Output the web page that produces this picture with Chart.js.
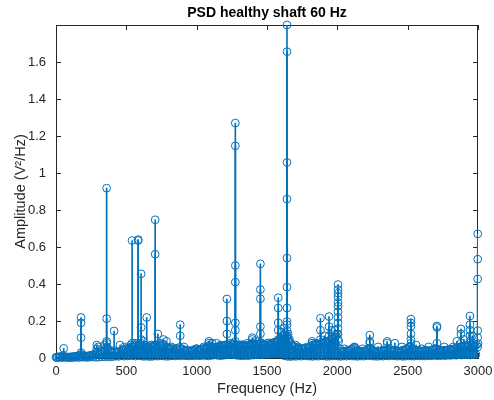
<!DOCTYPE html>
<html><head><meta charset="utf-8">
<script src="https://cdn.jsdelivr.net/npm/chart.js@4.4.1/dist/chart.umd.min.js"></script>
<style>html,body{margin:0;padding:0;background:#fff}#wrap{width:494px;height:400px}</style>
</head><body><div id="wrap"><canvas id="c" width="494" height="400"></canvas></div>
<script>
const chartTitle = 'PSD healthy shaft 60 Hz';
const xTitle = 'Frequency (Hz)';
const yTitle = 'Amplitude (V²/Hz)';
const xTicks = [0, 500, 1000, 1500, 2000, 2500, 3000];
const yTicks = [0, 0.2, 0.4, 0.6, 0.8, 1, 1.2, 1.4, 1.6];

// dense background spectrum, one value every 10 Hz from 0 Hz
const baseStep = 10;
const baseAmp = [
0.004,0.006,0.005,0.008,0.006,0.012,0.007,0.005,0.006,0.004,
0.005,0.007,0.006,0.009,0.008,0.010,0.012,0.015,0.020,0.014,
0.010,0.012,0.009,0.011,0.014,0.012,0.018,0.015,0.022,0.035,
0.030,0.025,0.020,0.028,0.035,0.040,0.045,0.050,0.038,0.030,
0.032,0.040,0.035,0.030,0.028,0.035,0.032,0.040,0.045,0.050,
0.050,0.042,0.048,0.055,0.062,0.058,0.068,0.072,0.060,0.065,
0.072,0.068,0.062,0.070,0.058,0.052,0.060,0.068,0.062,0.058,
0.068,0.072,0.062,0.058,0.070,0.062,0.075,0.068,0.060,0.058,
0.052,0.048,0.050,0.055,0.042,0.048,0.052,0.045,0.058,0.050,
0.048,0.042,0.040,0.038,0.042,0.035,0.038,0.040,0.042,0.048,
0.050,0.042,0.040,0.045,0.048,0.052,0.050,0.058,0.062,0.068,
0.062,0.058,0.060,0.055,0.052,0.058,0.062,0.060,0.068,0.065,
0.068,0.072,0.070,0.062,0.068,0.075,0.072,0.078,0.070,0.068,
0.062,0.068,0.072,0.065,0.060,0.068,0.062,0.070,0.075,0.072,
0.078,0.072,0.068,0.075,0.070,0.078,0.082,0.075,0.068,0.072,
0.078,0.082,0.072,0.070,0.078,0.085,0.080,0.088,0.092,0.098,
0.105,0.110,0.125,0.135,0.115,0.100,0.088,0.078,0.068,0.062,
0.058,0.052,0.050,0.048,0.052,0.050,0.048,0.052,0.058,0.055,
0.058,0.062,0.068,0.072,0.068,0.070,0.075,0.072,0.078,0.082,
0.078,0.082,0.088,0.085,0.092,0.098,0.102,0.108,0.112,0.122,
0.130,0.090,0.048,0.038,0.032,0.035,0.038,0.040,0.038,0.042,
0.048,0.052,0.058,0.052,0.042,0.038,0.035,0.032,0.038,0.035,
0.038,0.042,0.048,0.052,0.048,0.042,0.038,0.035,0.032,0.038,
0.035,0.038,0.042,0.040,0.038,0.042,0.048,0.045,0.038,0.035,
0.040,0.042,0.038,0.035,0.032,0.038,0.040,0.042,0.045,0.048,
0.052,0.058,0.062,0.052,0.048,0.042,0.038,0.040,0.042,0.038,
0.035,0.038,0.040,0.042,0.038,0.035,0.040,0.042,0.045,0.048,
0.052,0.048,0.042,0.040,0.038,0.042,0.040,0.038,0.042,0.045,
0.048,0.042,0.045,0.050,0.052,0.048,0.055,0.058,0.062,0.058,
0.062,0.068,0.062,0.065,0.070,0.072,0.068,0.062,0.065,0.072,
0.078];

// near-zero floor, one value every 20 Hz starting at 5 Hz
const floorStart = 5;
const floorStep = 20;
const floorAmp = [
0.002,0.003,0.002,0.004,0.003,0.002,0.003,0.004,0.003,0.005,
0.004,0.003,0.005,0.006,0.004,0.005,0.007,0.006,0.008,0.006,
0.008,0.010,0.009,0.012,0.010,0.011,0.013,0.012,0.010,0.012,
0.011,0.009,0.010,0.008,0.009,0.011,0.010,0.012,0.011,0.009,
0.010,0.012,0.011,0.013,0.012,0.014,0.012,0.011,0.013,0.012,
0.014,0.012,0.015,0.013,0.012,0.014,0.016,0.015,0.013,0.014,
0.016,0.018,0.020,0.017,0.015,0.013,0.012,0.014,0.013,0.015,
0.016,0.018,0.017,0.019,0.021,0.020,0.022,0.024,0.026,0.030,
0.028,0.012,0.009,0.008,0.010,0.009,0.011,0.010,0.012,0.011,
0.010,0.009,0.011,0.010,0.012,0.011,0.009,0.010,0.011,0.012,
0.010,0.009,0.011,0.010,0.012,0.011,0.010,0.009,0.011,0.010,
0.012,0.013,0.011,0.010,0.009,0.011,0.010,0.012,0.011,0.013,
0.012,0.010,0.011,0.009,0.010,0.012,0.011,0.010,0.012,0.011,
0.012,0.011,0.013,0.012,0.014,0.013,0.012,0.014,0.013,0.015,
0.014,0.016,0.015,0.017,0.016,0.018,0.017,0.016,0.018,0.020];

// peaks: frequency of each stem and the amplitudes of the points stacked on it
const peakFreq = [55,178,290,300,345,360,413,455,486,530,541,560,584,605,620,645,680,705,724,740,764,785,820,883,909,
  1000,1050,1087,1110,1140,1170,1215,1240,1275,1300,1334,1360,1396,1420,1453,1480,1510,1530,1560,1580,1600,1610,1620,
  1642,1650,1660,1702,1720,1760,1820,1850,1880,1910,1941,1960,1980,2005,2050,2122,2180,2231,2290,2354,2409,2460,
  2523,2560,2600,2649,2708,2760,2824,2850,2879,2900,2943,2960,2998];
const peakAmps = [
  [0.052], [0.219,0.19,0.11,0.03], [0.07,0.05], [0.06], [0.07],
  [0.918,0.213,0.09,0.08,0.06], [0.146], [0.07], [0.06], [0.07],
  [0.635,0.08,0.06], [0.08], [0.64,0.635,0.07], [0.455,0.165,0.10,0.08], [0.09],
  [0.219,0.06], [0.07], [0.747,0.561,0.07], [0.13], [0.08],
  [0.10], [0.09], [0.06], [0.18,0.12], [0.06],
  [0.05], [0.06], [0.09,0.08], [0.08], [0.08], [0.07],
  [0.319,0.20,0.13], [0.08], [1.27,1.147,0.50,0.41,0.19,0.15,0.09], [0.07], [0.07], [0.08],
  [0.11,0.10,0.08], [0.09], [0.509,0.37,0.32,0.17,0.13,0.08], [0.07], [0.07], [0.08], [0.07],
  [0.326,0.27,0.19,0.15,0.10], [0.14], [0.12], [0.16],
  [1.8,1.656,1.057,0.859,0.54,0.383,0.27,0.197,0.18,0.15,0.12], [0.13], [0.10], [0.07], [0.06], [0.05],
  [0.09,0.08], [0.08], [0.215,0.15,0.10], [0.12], [0.224,0.17,0.12], [0.15], [0.15],
  [0.397,0.37,0.35,0.33,0.30,0.28,0.25,0.22,0.19,0.16,0.13,0.10], [0.05], [0.06], [0.05],
  [0.124,0.09,0.08], [0.06], [0.09,0.08], [0.08], [0.06],
  [0.21,0.19,0.17,0.13,0.10,0.08], [0.07], [0.05], [0.06], [0.173,0.165,0.08], [0.06],
  [0.06], [0.09], [0.157,0.13,0.08], [0.10], [0.227,0.18,0.15,0.12,0.09], [0.12],
  [0.671,0.534,0.427,0.148,0.11,0.06]];

const BLUE = '#0072BD';
const AXIS = '#262626';
const FONT = '"Liberation Sans", Arial, Helvetica, sans-serif';

const points = [];
baseAmp.forEach((a, i) => points.push({x: i * baseStep, y: a}));
floorAmp.forEach((a, i) => points.push({x: floorStart + i * floorStep, y: a}));
peakFreq.forEach((f, i) => peakAmps[i].forEach(a => points.push({x: f, y: a})));

const frame = {
  id: 'frame',
  beforeDatasetsDraw(chart) {
    const {ctx, chartArea: ca, scales: {x, y}} = chart;
    ctx.save();
    ctx.strokeStyle = AXIS;
    ctx.lineWidth = 1;
    ctx.beginPath();
    ctx.moveTo(ca.left, ca.top + 0.5); ctx.lineTo(ca.right, ca.top + 0.5);
    ctx.moveTo(ca.right - 0.5, ca.top); ctx.lineTo(ca.right - 0.5, ca.bottom);
    const tl = 5;
    xTicks.forEach(v => {
      const px = Math.round(x.getPixelForValue(v)) + 0.5;
      ctx.moveTo(px, ca.bottom); ctx.lineTo(px, ca.bottom - tl);
      ctx.moveTo(px, ca.top); ctx.lineTo(px, ca.top + tl);
    });
    yTicks.forEach(v => {
      const py = Math.round(y.getPixelForValue(v)) + 0.5;
      ctx.moveTo(ca.left, py); ctx.lineTo(ca.left + tl, py);
      ctx.moveTo(ca.right, py); ctx.lineTo(ca.right - tl, py);
    });
    ctx.stroke();
    ctx.restore();
  },
  afterDraw(chart) {
    const {ctx, chartArea: ca} = chart;
    ctx.save();
    ctx.fillStyle = '#000';
    ctx.font = 'bold 14px ' + FONT;
    ctx.textAlign = 'center';
    ctx.textBaseline = 'middle';
    ctx.fillText(chartTitle, (ca.left + ca.right) / 2, 13.5);
    ctx.restore();
  }
};

new Chart(document.getElementById('c'), {
  type: 'bar',
  data: {
    datasets: [
      {type: 'bar', data: points, backgroundColor: BLUE, barThickness: 1, grouped: false, order: 2},
      {type: 'scatter', data: points, showLine: false, pointRadius: 3.9, pointBorderWidth: 1,
       borderColor: BLUE, pointBorderColor: BLUE, backgroundColor: 'rgba(0,0,0,0)',
       pointBackgroundColor: 'rgba(0,0,0,0)', clip: false, order: 1}
    ]
  },
  options: {
    responsive: false,
    animation: false,
    devicePixelRatio: 1,
    events: [],
    layout: {padding: {left: 0, right: 16, top: 25, bottom: 0}},
    plugins: {legend: {display: false}, tooltip: {enabled: false}, title: {display: false}},
    scales: {
      x: {
        type: 'linear', min: 0, max: 3000, offset: false,
        afterBuildTicks: s => { s.ticks = xTicks.map(v => ({value: v})); },
        afterFit: s => { s.height = 42; s.paddingLeft = 0; s.paddingRight = 0; },
        grid: {display: false, drawTicks: false},
        border: {display: true, color: AXIS, width: 1},
        ticks: {font: {family: FONT, size: 13}, color: AXIS, padding: 6, maxRotation: 0, autoSkip: false,
                callback: v => String(v)},
        title: {display: true, text: xTitle, color: AXIS, font: {family: FONT, size: 14.5}, padding: {top: 0, bottom: 2}}
      },
      y: {
        type: 'linear', min: 0, max: 1.8,
        afterBuildTicks: s => { s.ticks = yTicks.map(v => ({value: v})); },
        afterFit: s => { s.width = 56; s.paddingTop = 0; s.paddingBottom = 0; },
        grid: {display: false, drawTicks: false},
        border: {display: true, color: AXIS, width: 1},
        ticks: {font: {family: FONT, size: 13}, color: AXIS, padding: 10, autoSkip: false,
                callback: v => String(Math.round(v * 10) / 10)},
        title: {display: true, text: yTitle, color: AXIS, font: {family: FONT, size: 14.5}, padding: {top: 12, bottom: 0}}
      }
    }
  },
  plugins: [frame]
});
</script></body></html>
